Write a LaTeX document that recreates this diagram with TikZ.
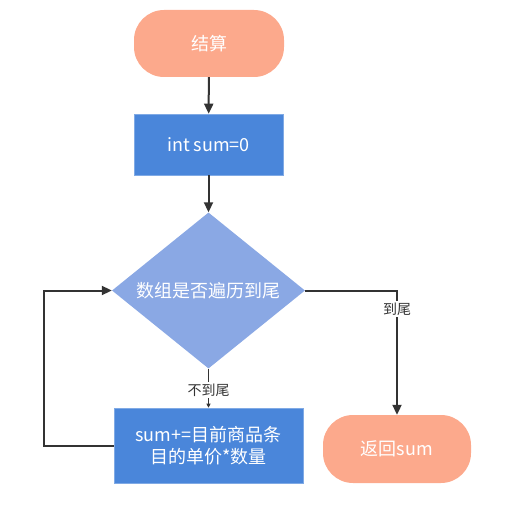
\documentclass[tikz,border=0pt]{standalone}
\usepackage{fontspec}
\setmainfont{Noto Sans CJK SC}
\usetikzlibrary{shapes.geometric,arrows.meta}
\definecolor{pill}{RGB}{252,169,140}
\definecolor{boxblue}{RGB}{74,134,218}
\definecolor{diablue}{RGB}{138,168,228}
\definecolor{linec}{RGB}{51,51,51}
\begin{document}
\begin{tikzpicture}[x=1pt,y=-1pt,
  every node/.style={font=\fontsize{18}{22}\selectfont, text=white, inner sep=0pt},
  pillbox/.style={fill=pill, rounded corners=30pt, minimum width=150pt, minimum height=67pt},
  procbox/.style={fill=boxblue, draw=boxblue!70!white, line width=0.6pt},
  decision/.style={fill=diablue, diamond, aspect=1.237, minimum width=193pt, minimum height=156pt, inner sep=0pt},
  conn/.style={draw=linec, line width=2pt, -{Triangle[length=10pt,width=9pt]}},
  lbl/.style={font=\fontsize{14}{16}\selectfont, text=linec, fill=white, inner sep=1.5pt}]
\useasboundingbox (0,0) rectangle (513,521);
\node[pillbox] (start) at (209,43.5) {结算};
\node[procbox, minimum width=149pt, minimum height=61pt] (init) at (208.5,144.5) {int sum=0};
\node[decision] (dec) at (208.5,290.5) {数组是否遍历到尾};
\node[procbox, minimum width=189pt, minimum height=75pt, align=center] (acc) at (208.5,445.5) {sum+=目前商品条\\目的单价*数量};
\node[pillbox, minimum width=148pt, minimum height=68pt] (ret) at (397,449) {返回sum};
\coordinate (rc) at (397,290.5);
\coordinate (lc1) at (44,445.5);
\coordinate (lc2) at (44,290.5);
\draw[conn] (start) -- (init);
\draw[conn] (init) -- (dec);
\draw[conn] (dec.east) -- (rc) -- node[lbl, pos=0.15] {到尾} (ret.north);
\draw[draw=linec, line width=1.2pt, -{Triangle[length=4pt,width=4pt]}] (dec.south) -- node[lbl, pos=0.55] {不到尾} (acc.north);
\draw[conn] (acc.west) -- (lc1) -- (lc2) -- (dec.west);
\end{tikzpicture}
\end{document}
